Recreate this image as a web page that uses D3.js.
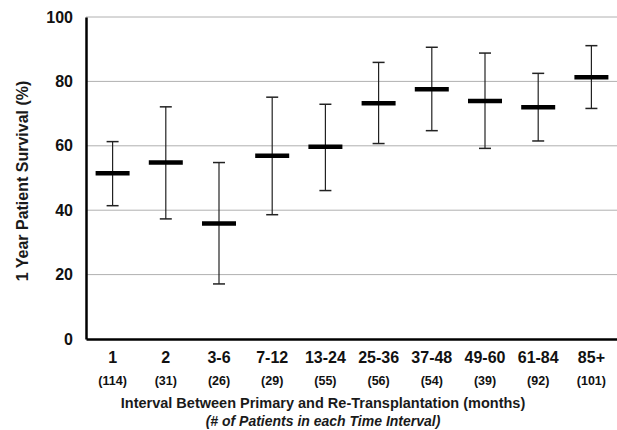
<!DOCTYPE html>
<html>
<head>
<meta charset="utf-8">
<script src="https://cdn.jsdelivr.net/npm/d3@7"></script>
<style>
  body { margin: 0; background: #fff; }
  svg { display: block; font-family: Arial, "Liberation Sans", sans-serif; }
</style>
</head>
<body>
<svg id="chart" width="617" height="430"></svg>
<script>
  const categories = ['1', '2', '3-6', '7-12', '13-24', '25-36', '37-48', '49-60', '61-84', '85+'];
  const counts = ['(114)', '(31)', '(26)', '(29)', '(55)', '(56)', '(54)', '(39)', '(92)', '(101)'];
  const survival = [51.5, 54.8, 35.9, 56.9, 59.7, 73.2, 77.6, 73.9, 72.0, 81.3];
  const upper = [61.3, 72.1, 54.8, 75.1, 72.9, 85.9, 90.6, 88.8, 82.5, 91.1];
  const lower = [41.4, 37.3, 17.1, 38.6, 46.1, 60.7, 64.7, 59.2, 61.5, 71.6];
  const yTicks = [0, 20, 40, 60, 80, 100];

  const margin = { top: 17, left: 86, bottom: 339, right: 618 };
  const svg = d3.select('#chart');

  const x = d3.scaleBand().domain(categories).range([margin.left, margin.right]);
  const y = d3.scaleLinear().domain([0, 100]).range([margin.bottom, margin.top]);

  const rows = categories.map((c, i) => ({ c, n: counts[i], v: survival[i], hi: upper[i], lo: lower[i] }));

  // gridlines
  svg.append('g')
    .selectAll('line').data(yTicks.filter(t => t > 0)).join('line')
    .attr('x1', margin.left).attr('x2', margin.right)
    .attr('y1', d => y(d)).attr('y2', d => y(d))
    .attr('stroke', '#b0b0b0').attr('stroke-width', 1);

  // y axis
  const yAxis = svg.append('g')
    .attr('transform', `translate(${margin.left},0)`)
    .call(d3.axisLeft(y).tickValues(yTicks).tickSize(0).tickPadding(13));
  yAxis.select('.domain').attr('stroke', '#000').attr('stroke-width', 2.5);
  yAxis.selectAll('text').attr('font-size', 16).attr('font-weight', 'bold').attr('fill', '#111')
    .attr('font-family', 'Arial, "Liberation Sans", sans-serif');

  // x axis
  const xAxis = svg.append('g')
    .attr('transform', `translate(0,${margin.bottom})`)
    .call(d3.axisBottom(x).tickSize(0).tickPadding(13));
  xAxis.select('.domain').attr('stroke', '#000').attr('stroke-width', 2.5);
  xAxis.selectAll('text').attr('font-size', 16).attr('font-weight', 'bold').attr('fill', '#111')
    .attr('font-family', 'Arial, "Liberation Sans", sans-serif');

  // patient counts
  svg.append('g')
    .selectAll('text').data(rows).join('text')
    .attr('x', d => x(d.c) + x.bandwidth() / 2)
    .attr('y', 385)
    .attr('text-anchor', 'middle')
    .attr('font-size', 12.5).attr('font-weight', 'bold').attr('fill', '#111')
    .text(d => d.n);

  // error bars
  const cx = d => x(d.c) + x.bandwidth() / 2;
  const bars = svg.append('g').selectAll('g').data(rows).join('g');
  bars.append('line')
    .attr('x1', cx).attr('x2', cx)
    .attr('y1', d => y(d.hi)).attr('y2', d => y(d.lo))
    .attr('stroke', '#222').attr('stroke-width', 1.2);
  bars.append('line')
    .attr('x1', d => cx(d) - 6).attr('x2', d => cx(d) + 6)
    .attr('y1', d => y(d.hi)).attr('y2', d => y(d.hi))
    .attr('stroke', '#222').attr('stroke-width', 1.5);
  bars.append('line')
    .attr('x1', d => cx(d) - 6).attr('x2', d => cx(d) + 6)
    .attr('y1', d => y(d.lo)).attr('y2', d => y(d.lo))
    .attr('stroke', '#222').attr('stroke-width', 1.5);
  bars.append('line')
    .attr('x1', d => cx(d) - 17).attr('x2', d => cx(d) + 17)
    .attr('y1', d => y(d.v)).attr('y2', d => y(d.v))
    .attr('stroke', '#000').attr('stroke-width', 4.5);

  // axis titles
  svg.append('text')
    .attr('x', 323).attr('y', 408)
    .attr('text-anchor', 'middle')
    .attr('font-size', 14.5).attr('font-weight', 'bold').attr('fill', '#1a1a1a')
    .text('Interval Between Primary and Re-Transplantation (months)');
  svg.append('text')
    .attr('x', 323).attr('y', 426)
    .attr('text-anchor', 'middle')
    .attr('font-size', 14).attr('font-weight', 'bold').attr('font-style', 'italic').attr('fill', '#1a1a1a')
    .text('(# of Patients in each Time Interval)');
  svg.append('text')
    .attr('transform', `translate(28,${(margin.top + margin.bottom) / 2 + 3}) rotate(-90)`)
    .attr('text-anchor', 'middle')
    .attr('font-size', 16).attr('font-weight', 'bold').attr('fill', '#1a1a1a')
    .text('1 Year Patient Survival (%)');
</script>
</body>
</html>
